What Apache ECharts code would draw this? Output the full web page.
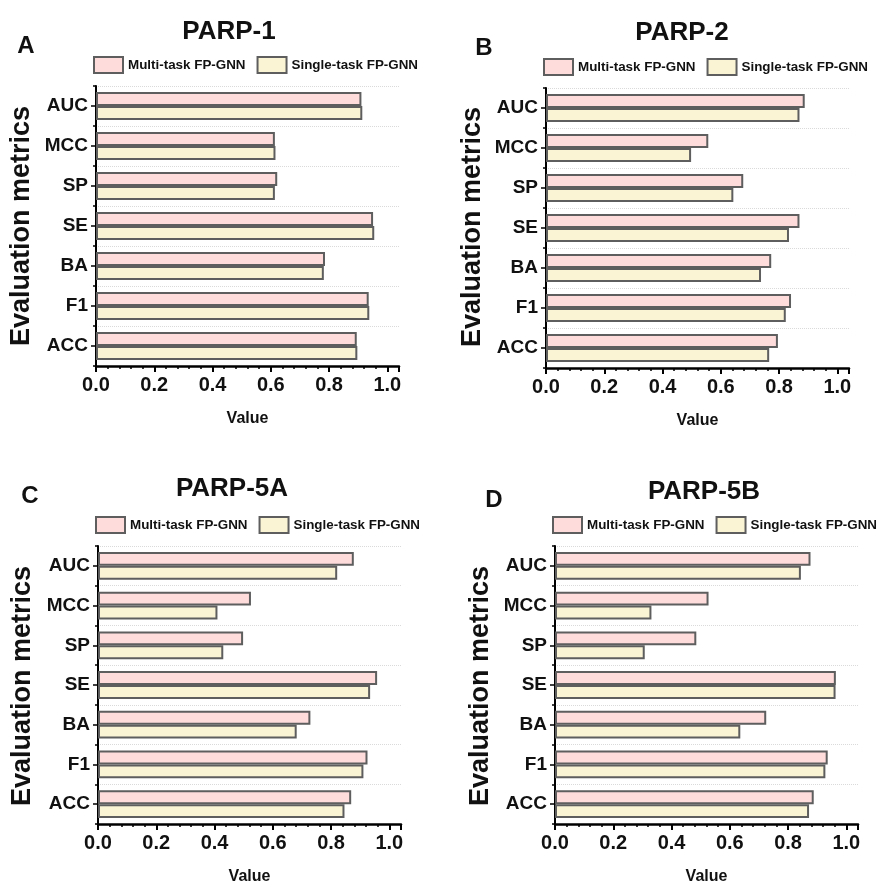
<!DOCTYPE html>
<html>
<head>
<meta charset="utf-8">
<script src="https://cdn.jsdelivr.net/npm/echarts@6/dist/echarts.min.js"></script>
<style>
  html, body { margin: 0; padding: 0; background: #fff; }
  #chart { width: 877px; height: 886px; }
</style>
</head>
<body>
<div id="chart"></div>
<script>
// categories bottom -> top (category axis starts at the bottom)
const categories = ['ACC', 'F1', 'BA', 'SE', 'SP', 'MCC', 'AUC'];
const seriesNames = ['Multi-task FP-GNN', 'Single-task FP-GNN'];
const panelTitles = ['PARP-1', 'PARP-2', 'PARP-5A', 'PARP-5B'];
const panelLetters = ['A', 'B', 'C', 'D'];

const multiParp1 = [0.895, 0.936, 0.786, 0.951, 0.622, 0.614, 0.911];
const singleParp1 = [0.897, 0.938, 0.782, 0.955, 0.614, 0.616, 0.914];
const multiParp2 = [0.796, 0.841, 0.773, 0.870, 0.677, 0.557, 0.888];
const singleParp2 = [0.766, 0.823, 0.738, 0.834, 0.643, 0.498, 0.870];
const multiParp5A = [0.869, 0.925, 0.729, 0.958, 0.498, 0.525, 0.878];
const singleParp5A = [0.846, 0.911, 0.682, 0.934, 0.430, 0.410, 0.821];
const multiParp5B = [0.888, 0.936, 0.725, 0.964, 0.485, 0.527, 0.877];
const singleParp5B = [0.872, 0.928, 0.636, 0.963, 0.308, 0.331, 0.844];

const multiData = [multiParp1, multiParp2, multiParp5A, multiParp5B];
const singleData = [singleParp1, singleParp2, singleParp5A, singleParp5B];

const FONT = '"Liberation Sans", Arial, sans-serif';
const PINK = '#ffdcdc';
const CREAM = '#faf3d4';
const EDGE = '#5e5e5e';

// layout of the 4 panels (px)
const panels = [
  { left: 96, top: 86, title: [229, 32], letter: [26, 46], legend: [93, 56], yName: [22, 226] },
  { left: 546, top: 88, title: [682, 33], letter: [484, 48], legend: [543, 58], yName: [473, 227] },
  { left: 98, top: 546, title: [232, 489], letter: [30, 496], legend: [95, 516], yName: [23, 686] },
  { left: 555, top: 546, title: [704, 492], letter: [494, 500], legend: [552, 516], yName: [481, 686] }
];
const GRID_W = 303;
const GRID_H = 280;
const X_MAX = 1.04;

const grid = [], xAxis = [], yAxis = [], series = [], legend = [], graphic = [];

panels.forEach((p, i) => {
  grid.push({ left: p.left, top: p.top, width: GRID_W, height: GRID_H });

  // main value axis: line, labels, minor ticks every 0.04
  xAxis.push({
    type: 'value', gridIndex: i, min: 0, max: X_MAX, interval: 0.04,
    name: 'Value', nameLocation: 'middle', nameGap: 45,
    nameTextStyle: { fontFamily: FONT, fontWeight: 'bold', fontSize: 16, color: '#111' },
    axisLine: { show: true, lineStyle: { color: '#000', width: 2.5 } },
    axisTick: { show: true, length: 3, lineStyle: { color: '#000', width: 1.5 } },
    splitLine: { show: false },
    axisLabel: {
      margin: 9, fontFamily: FONT, fontWeight: 'bold', fontSize: 20, color: '#111',
      formatter: (v) => {
        const r = Math.round(v * 100);
        return (r % 20 === 0 && r <= 100) ? (r / 100).toFixed(1) : '';
      }
    }
  });
  // major ticks at 0.2
  xAxis.push({
    type: 'value', gridIndex: i, min: 0, max: X_MAX, interval: 0.2, position: 'bottom',
    axisLine: { show: false },
    axisTick: { show: true, length: 6, lineStyle: { color: '#000', width: 2 } },
    axisLabel: { show: false },
    splitLine: { show: false }
  });

  yAxis.push({
    type: 'category', gridIndex: i, data: categories,
    axisLine: { show: true, lineStyle: { color: '#000', width: 2 } },
    axisTick: { show: true, alignWithLabel: true, length: 5, lineStyle: { color: '#000', width: 1.5 } },
    axisLabel: { margin: 8, fontFamily: FONT, fontWeight: 'bold', fontSize: 19, color: '#111' },
    splitLine: { show: false }
  });
  // boundary ticks + dotted separators
  yAxis.push({
    type: 'category', gridIndex: i, data: categories, position: 'left',
    axisLine: { show: false },
    axisTick: { show: true, length: 3, lineStyle: { color: '#000', width: 1.5 } },
    axisLabel: { show: false },
    splitLine: { show: true, lineStyle: { type: 'dotted', color: '#dadada', width: 1 } }
  });

  // first series sits on top of each group
  series.push({
    name: seriesNames[0], type: 'bar', xAxisIndex: 2 * i, yAxisIndex: 2 * i,
    data: multiData[i], barGap: '0%', barCategoryGap: '30%',
    itemStyle: { color: PINK, borderColor: EDGE, borderWidth: 2 }
  });
  series.push({
    name: seriesNames[1], type: 'bar', xAxisIndex: 2 * i, yAxisIndex: 2 * i,
    data: singleData[i], barGap: '0%', barCategoryGap: '30%',
    itemStyle: { color: CREAM, borderColor: EDGE, borderWidth: 2 }
  });

  legend.push({
    left: p.legend[0], top: p.legend[1], width: 420, orient: 'horizontal',
    data: seriesNames, icon: 'rect', itemWidth: 29, itemHeight: 16, itemGap: 11,
    selectedMode: false, padding: 0,
    itemStyle: { borderColor: EDGE, borderWidth: 2 },
    textStyle: { fontFamily: FONT, fontWeight: 'bold', fontSize: 13.4, color: '#111' }
  });

  graphic.push({
    type: 'text', x: p.title[0], y: p.title[1],
    style: { text: panelTitles[i], font: 'bold 26px ' + FONT, fill: '#111', textAlign: 'center', textVerticalAlign: 'middle' }
  });
  graphic.push({
    type: 'text', x: p.letter[0], y: p.letter[1],
    style: { text: panelLetters[i], font: 'bold 24px ' + FONT, fill: '#111', textAlign: 'center', textVerticalAlign: 'middle' }
  });
  graphic.push({
    type: 'text', x: p.yName[0], y: p.yName[1], rotation: Math.PI / 2,
    style: { text: 'Evaluation metrics', font: 'bold 27px ' + FONT, fill: '#111', textAlign: 'center', textVerticalAlign: 'middle' }
  });
});

const chart = echarts.init(document.getElementById('chart'), null, { renderer: 'canvas' });
chart.setOption({
  backgroundColor: '#fff',
  animation: false,
  grid, xAxis, yAxis, series, legend, graphic
});
</script>
</body>
</html>
